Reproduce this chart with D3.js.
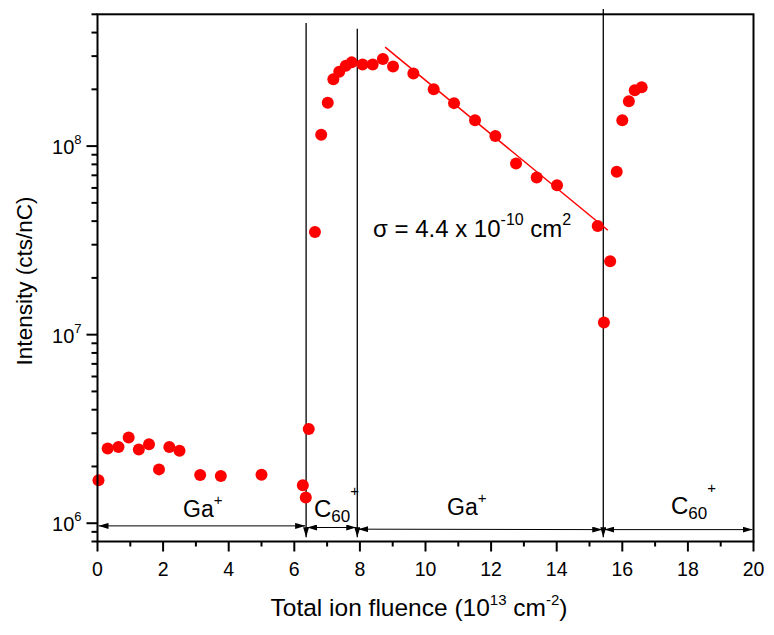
<!DOCTYPE html>
<html><head><meta charset="utf-8">
<script src="https://cdn.jsdelivr.net/npm/d3@7"></script>
<style>body{margin:0;background:#fff}svg{display:block}text{font-family:"Liberation Sans",Arial,Helvetica,sans-serif;fill:#000}</style>
</head><body>
<svg id="c" width="774" height="635"></svg>
<script>
// ---- data ----
const gaX1 = [0.03, 0.31, 0.64, 0.95, 1.26, 1.57, 1.875, 2.19, 2.5, 3.13, 3.76, 5.0, 6.26, 6.35, 6.44];
const gaY1 = [1.69e6, 2.49e6, 2.54e6, 2.85e6, 2.46e6, 2.62e6, 1.93e6, 2.54e6, 2.42e6, 1.80e6, 1.78e6, 1.81e6, 1.59e6, 1.37e6, 3.16e6];
const c60X1 = [6.63, 6.82, 7.02, 7.19, 7.37, 7.57, 7.75];
const c60Y1 = [3.5e7, 1.15e8, 1.70e8, 2.26e8, 2.48e8, 2.67e8, 2.78e8];
const gaX2 = [8.08, 8.39, 8.70, 9.01, 9.63, 10.25, 10.87, 11.51, 12.13, 12.76, 13.39, 14.01, 15.25];
const gaY2 = [2.71e8, 2.71e8, 2.90e8, 2.64e8, 2.43e8, 2.0e8, 1.69e8, 1.37e8, 1.13e8, 8.09e7, 6.82e7, 6.2e7, 3.77e7];
const c60X2 = [15.44, 15.63, 15.83, 16.0, 16.2, 16.38, 16.59];
const c60Y2 = [1.16e7, 2.45e7, 7.31e7, 1.37e8, 1.73e8, 1.98e8, 2.05e8];
const fitX = [8.77, 15.56];
const fitY = [3.35e8, 3.58e7];
const boundaryX = [6.36, 7.92, 15.42];
const boundaryTop = [4.5e8, 4.19e8, 5.33e8];
const boundaryBottom = 8.43e5;
// phase arrows
const phaseX0 = [0, 6.36, 7.92, 15.42];
const phaseX1 = [6.36, 7.92, 15.42, 20];
const phaseY0 = [9.68e5, 9.49e5, 9.3e5, 9.25e5];
const phaseY1 = [9.68e5, 9.49e5, 9.25e5, 9.25e5];
const phaseLabels = ["Ga", "C"];
const xTicks = [0, 2, 4, 6, 8, 10, 12, 14, 16, 18, 20];
const yTickExp = [6, 7, 8];

// ---- layout ----
const svg = d3.select("#c");
const L = 97.5, R = 753.5, T = 14.3, B = 541.5;
const x = d3.scaleLinear().domain([0, 20]).range([L, R]);
const y = d3.scaleLog().domain([8e5, 5e8]).range([B, T]);

const defs = svg.append("defs");
defs.append("marker").attr("id", "ah").attr("markerUnits", "userSpaceOnUse")
  .attr("viewBox", "0 0 10 6").attr("refX", 10).attr("refY", 3)
  .attr("markerWidth", 10).attr("markerHeight", 6).attr("orient", "auto-start-reverse")
  .append("path").attr("d", "M0,0 L10,3 L0,6 Z").attr("fill", "#000");

const g = svg.append("g");
boundaryX.forEach((bx, i) => {
  g.append("line").attr("x1", x(bx)).attr("x2", x(bx))
    .attr("y1", y(boundaryTop[i])).attr("y2", y(boundaryBottom))
    .attr("stroke", "#000").attr("stroke-width", 1.3).attr("marker-end", "url(#ah)");
});
phaseX0.forEach((px, i) => {
  g.append("line").attr("x1", x(px) + 1).attr("x2", x(phaseX1[i]) - 1)
    .attr("y1", y(phaseY0[i])).attr("y2", y(phaseY1[i]))
    .attr("stroke", "#000").attr("stroke-width", 1)
    .attr("marker-start", "url(#ah)").attr("marker-end", "url(#ah)");
});

svg.append("path").datum(fitX.map((d, i) => [d, fitY[i]]))
  .attr("d", d3.line().x(d => x(d[0])).y(d => y(d[1])))
  .attr("stroke", "#f00").attr("stroke-width", 1.5).attr("fill", "none");

const pts = [];
[[gaX1, gaY1], [c60X1, c60Y1], [gaX2, gaY2], [c60X2, c60Y2]].forEach(([xs, ys]) => xs.forEach((v, i) => pts.push([v, ys[i]])));
svg.append("g").selectAll("circle").data(pts).join("circle")
  .attr("cx", d => x(d[0])).attr("cy", d => y(d[1])).attr("r", 6).attr("fill", "#f00");

svg.append("rect").attr("x", L).attr("y", T).attr("width", R - L).attr("height", B - T)
  .attr("fill", "none").attr("stroke", "#000").attr("stroke-width", 2);

// x axis
const xMinor = d3.range(1, 20, 2);
const xa = svg.append("g").attr("transform", `translate(0,${B})`);
xa.selectAll(".mj").data(xTicks).join("line").attr("x1", d => x(d)).attr("x2", d => x(d)).attr("y1", 0).attr("y2", 10).attr("stroke", "#000").attr("stroke-width", 2);
xa.selectAll(".mn").data(xMinor).join("line").attr("x1", d => x(d)).attr("x2", d => x(d)).attr("y1", 0).attr("y2", 5).attr("stroke", "#000").attr("stroke-width", 2);
xa.selectAll("text").data(xTicks).join("text").attr("x", d => x(d)).attr("y", 34)
  .attr("text-anchor", "middle").attr("font-size", 19.5).text(d => d3.format("d")(d));

// y axis
const yMinor = [];
[5, 6, 7, 8].forEach(e => { for (let m = 2; m <= 9; m++) { const v = m * Math.pow(10, e); if (v >= 8e5 && v <= 5e8) yMinor.push(v); } });
const ya = svg.append("g").attr("transform", `translate(${L},0)`);
ya.selectAll(".mn").data(yMinor).join("line").attr("x1", -6).attr("x2", 0).attr("y1", d => y(d)).attr("y2", d => y(d)).attr("stroke", "#000").attr("stroke-width", 2);
ya.selectAll(".mj").data(yTickExp).join("line").attr("x1", -11).attr("x2", 0).attr("y1", d => y(Math.pow(10, d))).attr("y2", d => y(Math.pow(10, d))).attr("stroke", "#000").attr("stroke-width", 2);
yTickExp.forEach(e => {
  const t = ya.append("text").attr("x", -16).attr("y", y(Math.pow(10, e)) + 8).attr("text-anchor", "end").attr("font-size", 20);
  t.append("tspan").text("10");
  t.append("tspan").attr("dy", -10).attr("font-size", 13).text(e);
});

// axis titles
const xt = svg.append("text").attr("x", 419).attr("y", 616).attr("text-anchor", "middle").attr("font-size", 24.5);
xt.append("tspan").text("Total ion fluence (10");
xt.append("tspan").attr("dy", -11).attr("font-size", 15).text("13");
xt.append("tspan").attr("dy", 11).text(" cm");
xt.append("tspan").attr("dy", -11).attr("font-size", 15).text("-2");
xt.append("tspan").attr("dy", 11).text(")");

svg.append("text").attr("transform", "translate(32,281) rotate(-90)").attr("text-anchor", "middle")
  .attr("font-size", 22.5).text("Intensity (cts/nC)");

function gaLabel(cx, by) {
  const t = svg.append("text").attr("x", cx).attr("y", by).attr("font-size", 23);
  t.append("tspan").text(phaseLabels[0]);
  t.append("tspan").attr("dy", -12).attr("font-size", 15).text("+");
}
function cLabel(cx, by) {
  const t = svg.append("text").attr("x", cx).attr("y", by).attr("font-size", 24);
  t.append("tspan").text(phaseLabels[1]);
  t.append("tspan").attr("dy", 5).attr("font-size", 17).text("60");
  t.append("tspan").attr("dy", -26).attr("font-size", 15).text("+");
}
gaLabel(183, 517);
cLabel(314, 517);
gaLabel(447, 515);
cLabel(671, 514);

const st = svg.append("text").attr("x", 373).attr("y", 237).attr("font-size", 24);
st.append("tspan").text("\u03c3 = 4.4 x 10");
st.append("tspan").attr("dy", -12).attr("font-size", 16).text("-10");
st.append("tspan").attr("dy", 12).text(" cm");
st.append("tspan").attr("dy", -12).attr("font-size", 16).text("2");
</script>
</body></html>
